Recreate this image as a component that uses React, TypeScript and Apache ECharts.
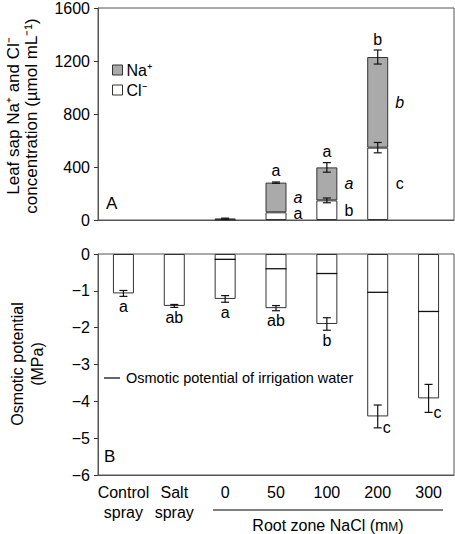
import React, { useEffect, useRef } from "react";
import * as echarts from "echarts";

const FONT = "'Liberation Sans', Arial, Helvetica, sans-serif";

// Categories (x axis)
const categories = ["Control\nspray", "Salt\nspray", "0", "50", "100", "200", "300"];

// Panel A: leaf sap ion concentrations (µmol mL⁻¹)
const clMean: (number | null)[] = [null, null, 3, 58, 148, 546, null];
const clErr: (number | null)[] = [null, null, 0, 0, 18, 39, null];
const naMean: (number | null)[] = [null, null, 7, 224, 249, 684, null];
const totalErr: (number | null)[] = [null, null, 4, 5, 36, 53, null];
const totalLetters = ["", "", "", "a", "a", "b", ""];
const naLetters = ["", "", "", "a", "a", "b", ""];
const clLetters = ["", "", "", "a", "b", "c", ""];

// Panel B: osmotic potential (MPa)
const osmMean = [-1.07, -1.41, -1.22, -1.47, -1.9, -4.41, -3.92];
const osmErr = [0.08, 0.04, 0.09, 0.07, 0.17, 0.31, 0.38];
const irrigation: (number | null)[] = [null, null, -0.145, -0.4, -0.53, -1.04, -1.56];
const osmLetters = ["a", "ab", "a", "ab", "b", "c", "c"];
const osmLetterSide = ["below", "below", "below", "below", "below", "right", "right"];

const EDGE = "#333";
const FRAME = "#555";

function errorBarItem(_params: any, api: any) {
  const i = api.value(0);
  const m = api.value(1);
  const e = api.value(2);
  const hi = api.coord([i, m + e]);
  const lo = api.coord([i, m - e]);
  const cx = hi[0];
  const hw = 4;
  const st = { stroke: "#111", lineWidth: 1.2 };
  return {
    type: "group",
    children: [
      { type: "line", shape: { x1: cx, y1: hi[1], x2: cx, y2: lo[1] }, style: st },
      { type: "line", shape: { x1: cx - hw, y1: hi[1], x2: cx + hw, y2: hi[1] }, style: st },
      { type: "line", shape: { x1: cx - hw, y1: lo[1], x2: cx + hw, y2: lo[1] }, style: st },
    ],
  };
}

function txt(x: number, y: number, text: string, extra: any = {}) {
  return {
    type: "text",
    x,
    y,
    style: {
      text,
      fontSize: 16,
      fontFamily: FONT,
      fill: "#000",
      align: "center",
      verticalAlign: "middle",
      ...extra,
    },
  };
}

export default function App() {
  const ref = useRef<HTMLDivElement>(null);
  useEffect(() => {
    if (!ref.current) return;
    const chart = echarts.init(ref.current, undefined, { renderer: "svg" });

    const idx = categories.map((_, i) => i);
    const topErrData: number[][] = [];
    idx.forEach((i) => {
      if (clMean[i] != null && naMean[i] != null && totalErr[i] != null) {
        topErrData.push([i, (clMean[i] as number) + (naMean[i] as number), totalErr[i] as number]);
      }
      if (clMean[i] != null && clErr[i]) {
        topErrData.push([i, clMean[i] as number, clErr[i] as number]);
      }
    });
    const topLetterData = idx
      .filter((i) => totalLetters[i])
      .map((i) => [i, clMean[i] as number, naMean[i] as number, totalErr[i] as number]);
    const osmErrData = idx.map((i) => [i, osmMean[i], osmErr[i]]);
    const irrData = idx.filter((i) => irrigation[i] != null).map((i) => [i, irrigation[i] as number]);

    const option: any = {
      animation: false,
      textStyle: { fontFamily: FONT, color: "#000" },
      grid: [
        { left: 98, top: 8, width: 356, height: 212, show: true, borderColor: FRAME, borderWidth: 1, backgroundColor: "transparent" },
        { left: 98, top: 254, width: 356, height: 221, show: true, borderColor: FRAME, borderWidth: 1, backgroundColor: "transparent" },
      ],
      xAxis: [
        {
          type: "category",
          gridIndex: 0,
          data: categories,
          axisLine: { onZero: false, lineStyle: { color: FRAME } },
          axisTick: { show: false },
          axisLabel: { show: false },
        },
        {
          type: "category",
          gridIndex: 1,
          data: categories,
          axisLine: { onZero: false, lineStyle: { color: FRAME } },
          axisTick: { show: false },
          axisLabel: { interval: 0, fontSize: 16, lineHeight: 20, margin: 7, color: "#000", fontFamily: FONT },
        },
      ],
      yAxis: [
        {
          type: "value",
          gridIndex: 0,
          min: 0,
          max: 1600,
          interval: 400,
          axisLine: { show: true, lineStyle: { color: FRAME } },
          axisTick: { show: true, length: 4, lineStyle: { color: EDGE } },
          splitLine: { show: false },
          axisLabel: { fontSize: 16, color: "#000", margin: 8, fontFamily: FONT, formatter: (v: number) => String(v) },
        },
        {
          type: "value",
          gridIndex: 1,
          min: -6,
          max: 0,
          interval: 1,
          axisLine: { show: true, lineStyle: { color: FRAME } },
          axisTick: { show: true, length: 4, lineStyle: { color: EDGE } },
          splitLine: { show: false },
          axisLabel: {
            fontSize: 16,
            color: "#000",
            margin: 8,
            fontFamily: FONT,
            formatter: (v: number) => (v < 0 ? "\u2212" + Math.abs(v) : String(v)),
          },
        },
      ],
      legend: {
        left: 107,
        top: 57,
        orient: "vertical",
        itemWidth: 10,
        itemHeight: 10,
        itemGap: 4,
        icon: "rect",
        data: ["Na\u207A", "Cl\u207B"],
        textStyle: { fontSize: 16, color: "#000", fontFamily: FONT, lineHeight: 16, padding: [0, 0, 0, -1] },
        itemStyle: { borderColor: EDGE, borderWidth: 1 },
      },
      series: [
        {
          name: "Cl\u207B",
          type: "bar",
          stack: "ions",
          xAxisIndex: 0,
          yAxisIndex: 0,
          barWidth: 21,
          data: clMean,
          itemStyle: { color: "#ffffff", borderColor: EDGE, borderWidth: 1 },
        },
        {
          name: "Na\u207A",
          type: "bar",
          stack: "ions",
          xAxisIndex: 0,
          yAxisIndex: 0,
          barWidth: 21,
          data: naMean,
          itemStyle: { color: "#aaaaaa", borderColor: EDGE, borderWidth: 1 },
        },
        {
          type: "custom",
          xAxisIndex: 0,
          yAxisIndex: 0,
          z: 5,
          renderItem: errorBarItem,
          data: topErrData,
        },
        {
          type: "custom",
          xAxisIndex: 0,
          yAxisIndex: 0,
          z: 5,
          data: topLetterData,
          renderItem: (_p: any, api: any) => {
            const i = api.value(0);
            const cl = api.value(1);
            const na = api.value(2);
            const e = api.value(3);
            const top = api.coord([i, cl + na + e]);
            const naMid = api.coord([i, cl + na / 2]);
            const clMid = api.coord([i, Math.max(cl / 2, 50)]);
            return {
              type: "group",
              children: [
                txt(top[0], top[1] - 11, totalLetters[i]),
                txt(naMid[0] + 22, naMid[1], naLetters[i], { fontStyle: "italic" }),
                txt(clMid[0] + 22, clMid[1], clLetters[i]),
              ],
            };
          },
        },
        {
          name: "osm",
          type: "bar",
          xAxisIndex: 1,
          yAxisIndex: 1,
          barWidth: 21,
          data: osmMean,
          itemStyle: { color: "#ffffff", borderColor: EDGE, borderWidth: 1 },
        },
        {
          type: "custom",
          xAxisIndex: 1,
          yAxisIndex: 1,
          z: 5,
          data: irrData,
          renderItem: (_p: any, api: any) => {
            const p = api.coord([api.value(0), api.value(1)]);
            return {
              type: "line",
              shape: { x1: p[0] - 10.5, y1: p[1], x2: p[0] + 10.5, y2: p[1] },
              style: { stroke: "#111", lineWidth: 1.3 },
            };
          },
        },
        {
          type: "custom",
          xAxisIndex: 1,
          yAxisIndex: 1,
          z: 5,
          renderItem: errorBarItem,
          data: osmErrData,
        },
        {
          type: "custom",
          xAxisIndex: 1,
          yAxisIndex: 1,
          z: 5,
          data: osmErrData,
          renderItem: (_p: any, api: any) => {
            const i = api.value(0);
            const bot = api.coord([i, api.value(1) - api.value(2)]);
            if (osmLetterSide[i] === "right") {
              return txt(bot[0] + 5, bot[1], osmLetters[i], { align: "left" });
            }
            return txt(bot[0], bot[1] + 10, osmLetters[i]);
          },
        },
      ],
      graphic: [
        {
          type: "text",
          x: 22,
          y: 116,
          rotation: Math.PI / 2,
          style: {
            text: "Leaf sap Na\u207A and Cl\u207B\nconcentration (\u00B5mol mL\u207B\u00B9)",
            fontSize: 17,
            lineHeight: 18,
            fontFamily: FONT,
            fill: "#000",
            align: "center",
            verticalAlign: "middle",
          },
        },
        {
          type: "text",
          x: 27,
          y: 364,
          rotation: Math.PI / 2,
          style: {
            text: "Osmotic potential\n(MPa)",
            fontSize: 16,
            lineHeight: 20,
            fontFamily: FONT,
            fill: "#000",
            align: "center",
            verticalAlign: "middle",
          },
        },
        { type: "text", x: 106, y: 203, style: { text: "A", fontSize: 17, fontFamily: FONT, fill: "#000", align: "left", verticalAlign: "middle" } },
        { type: "text", x: 104, y: 456, style: { text: "B", fontSize: 17, fontFamily: FONT, fill: "#000", align: "left", verticalAlign: "middle" } },
        { type: "line", shape: { x1: 104, y1: 378, x2: 120, y2: 378 }, style: { stroke: "#000", lineWidth: 1.2 } },
        {
          type: "text",
          x: 126,
          y: 378,
          style: { text: "Osmotic potential of irrigation water", fontSize: 14.5, fontFamily: FONT, fill: "#000", align: "left", verticalAlign: "middle" },
        },
        { type: "line", shape: { x1: 213, y1: 510, x2: 443, y2: 510 }, style: { stroke: "#000", lineWidth: 1.2 } },
        {
          type: "text",
          x: 328,
          y: 525,
          style: {
            text: "Root zone NaCl (m{sc|M})",
            fontSize: 16,
            fontFamily: FONT,
            fill: "#000",
            align: "center",
            verticalAlign: "middle",
            rich: { sc: { fontSize: 12, fontFamily: FONT, fill: "#000", verticalAlign: "bottom", padding: [0, 0, 0, 0] } },
          },
        },
      ],
    };
    chart.setOption(option);
    return () => chart.dispose();
  }, []);

  return (
    <div style={{ position: "fixed", left: 0, top: 0, width: 455, height: 534, background: "#fff" }}>
      <div ref={ref} style={{ width: 455, height: 534 }} />
    </div>
  );
}
